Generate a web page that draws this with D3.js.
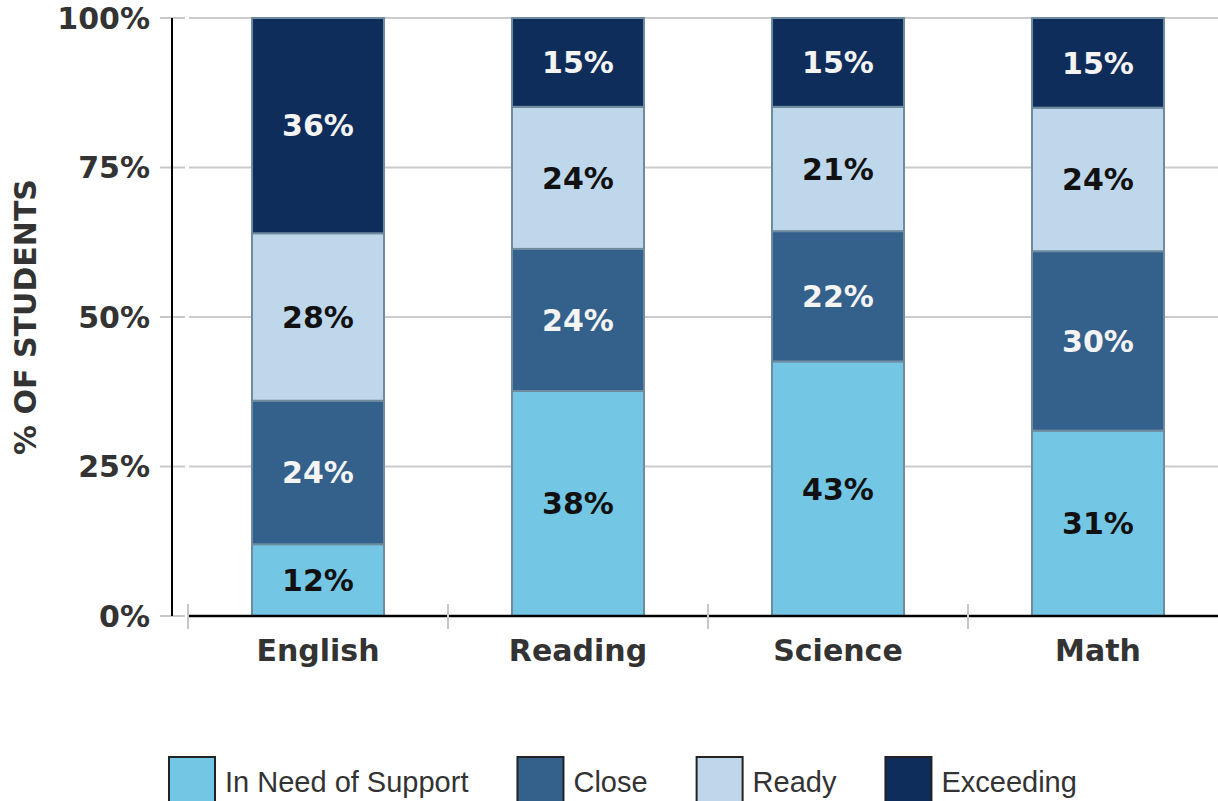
<!DOCTYPE html>
<html>
<head>
<meta charset="utf-8">
<script src="https://cdn.jsdelivr.net/npm/d3@7"></script>
<style>
  html, body { margin: 0; padding: 0; background: #fff; }
  svg { display: block; }
</style>
</head>
<body>
<svg id="chart" width="1218" height="801"></svg>
<script>
// ---- data ----
const categories = ["English", "Reading", "Science", "Math"];
const seriesNames = ["In Need of Support", "Close", "Ready", "Exceeding"];
const supportValues = [12, 38, 43, 31];
const closeValues = [24, 24, 22, 30];
const readyValues = [28, 24, 21, 24];
const exceedingValues = [36, 15, 15, 15];
const yTickValues = [0, 0.25, 0.5, 0.75, 1];
const yTitle = "% OF STUDENTS";

const seriesColors = ["#74c7e4", "#33618c", "#bfd7ea", "#0f2d5a"];
const labelColors = ["#111111", "#f4f4f4", "#111111", "#f4f4f4"];

const rows = categories.map((c, i) => ({
  category: c,
  "In Need of Support": supportValues[i],
  "Close": closeValues[i],
  "Ready": readyValues[i],
  "Exceeding": exceedingValues[i]
}));

const stack = d3.stack().keys(seriesNames).offset(d3.stackOffsetExpand);
const stacked = stack(rows);

const svg = d3.select("#chart");
const plotLeft = 188, plotRight = 1228, plotTop = 18, plotBottom = 616;

const x = d3.scaleBand().domain(categories).range([plotLeft, plotRight]).paddingInner(0.4923).paddingOuter(0.24615);
const y = d3.scaleLinear().domain([0, 1]).range([plotBottom, plotTop]);

const boldFont = "'DejaVu Sans', sans-serif";
const boldSize = 30;

// gridlines
svg.append("g").selectAll("line").data(yTickValues).join("line")
  .attr("x1", 189).attr("x2", 1218)
  .attr("y1", d => y(d)).attr("y2", d => y(d))
  .attr("stroke", "#cccccc").attr("stroke-width", 2);

// y tick marks
svg.append("g").selectAll("line").data(yTickValues).join("line")
  .attr("x1", 160).attr("x2", 185)
  .attr("y1", d => y(d)).attr("y2", d => y(d))
  .attr("stroke", "#c8c8c8").attr("stroke-width", 2);

// bars
const layer = svg.append("g").selectAll("g").data(stacked).join("g")
  .attr("fill", (d, i) => seriesColors[i]);
layer.selectAll("rect").data(d => d).join("rect")
  .attr("x", d => x(d.data.category))
  .attr("width", x.bandwidth())
  .attr("y", d => y(d[1]))
  .attr("height", d => y(d[0]) - y(d[1]))
  .attr("stroke", "#6f8ba0").attr("stroke-width", 2);

// bar labels
stacked.forEach((s, si) => {
  svg.append("g").selectAll("text").data(s).join("text")
    .attr("x", d => x(d.data.category) + x.bandwidth() / 2)
    .attr("y", d => (y(d[0]) + y(d[1])) / 2)
    .attr("dy", "0.36em")
    .attr("text-anchor", "middle")
    .attr("font-family", boldFont).attr("font-weight", "bold").attr("font-size", boldSize)
    .attr("fill", labelColors[si])
    .text(d => d.data[s.key] + "%");
});

// axes lines
svg.append("line").attr("x1", 172).attr("x2", 172).attr("y1", plotTop).attr("y2", plotBottom)
  .attr("stroke", "#000").attr("stroke-width", 2);
svg.append("line").attr("x1", 188).attr("x2", 1218).attr("y1", plotBottom).attr("y2", plotBottom)
  .attr("stroke", "#000").attr("stroke-width", 2.5);

// x tick marks at band boundaries
svg.append("g").selectAll("line").data(categories).join("line")
  .attr("x1", d => x(d) - x.step() * x.paddingInner() / 2)
  .attr("x2", d => x(d) - x.step() * x.paddingInner() / 2)
  .attr("y1", 604).attr("y2", 629)
  .attr("stroke", "#c8c8c8").attr("stroke-width", 2);

// y tick labels
svg.append("g").selectAll("text").data(yTickValues).join("text")
  .attr("x", 150).attr("y", d => y(d)).attr("dy", "0.36em")
  .attr("text-anchor", "end")
  .attr("font-family", boldFont).attr("font-weight", "bold").attr("font-size", boldSize)
  .attr("fill", "#333333")
  .text(d => d3.format(".0%")(d));

// x category labels
svg.append("g").selectAll("text").data(categories).join("text")
  .attr("x", d => x(d) + x.bandwidth() / 2).attr("y", 661)
  .attr("text-anchor", "middle")
  .attr("font-family", boldFont).attr("font-weight", "bold").attr("font-size", boldSize)
  .attr("fill", "#333333")
  .text(d => d);

// y title
svg.append("text")
  .attr("transform", "translate(36,317) rotate(-90)")
  .attr("text-anchor", "middle")
  .attr("font-family", boldFont).attr("font-weight", "bold").attr("font-size", 30)
  .attr("fill", "#333333")
  .text(yTitle);

// legend
const legend = svg.append("g");
let lx = 169;
seriesNames.forEach((name, i) => {
  legend.append("rect").attr("x", lx).attr("y", 757).attr("width", 46).attr("height", 50)
    .attr("fill", seriesColors[i]).attr("stroke", "#222").attr("stroke-width", 2);
  const t = legend.append("text").attr("x", lx + 56).attr("y", 792)
    .attr("font-family", "'Liberation Sans', Arial, sans-serif").attr("font-size", 29)
    .attr("fill", "#333333").text(name);
  const w = t.node().getComputedTextLength();
  lx = lx + 56 + w + 49;
});
</script>
</body>
</html>
